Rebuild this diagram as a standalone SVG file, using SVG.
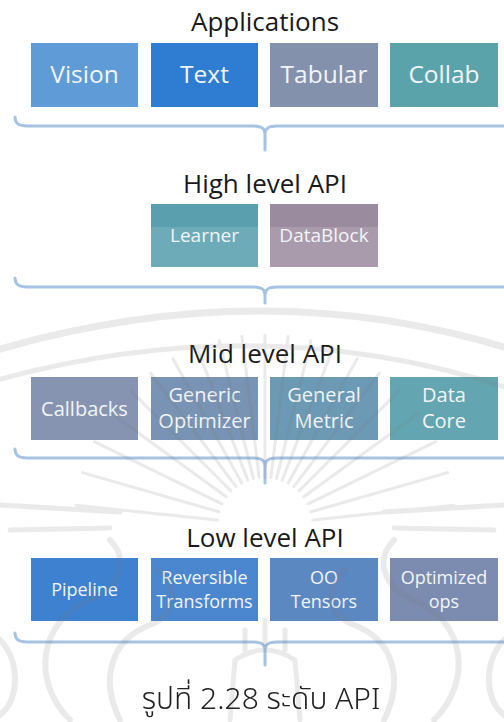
<svg xmlns="http://www.w3.org/2000/svg" xmlns:xlink="http://www.w3.org/1999/xlink" width="504" height="722" viewBox="0 0 504 722">
  <style>
    .title { font-family: "Open Sans", "Noto Sans", sans-serif; font-size: 26px; fill: #1a1a1a; text-anchor: middle; }
    .lbl { font-family: "Open Sans", "Noto Sans", sans-serif; fill: #f2f5f9; text-anchor: middle; }
    .app { font-size: 24.5px; }
    .high { font-size: 19px; }
    .mid { font-size: 20px; }
    .low { font-size: 18px; }
    .brace { fill: none; stroke: #a6c3e4; stroke-width: 3; stroke-linecap: round; }
    .caption { font-family: "Noto Sans Thai", "Noto Sans Thai UI", "Leelawadee UI", "Tahoma", "Noto Sans", sans-serif; font-size: 30px; font-weight: 300; fill: #222; text-anchor: middle; }
    .wm { fill: none; stroke: #7a7a7a; stroke-linecap: round; }
  </style>
  <defs>
    <line id="ray" x1="0" y1="-48" x2="0" y2="-190"/>
  </defs>

  <rect width="504" height="722" fill="#ffffff"/>

  <!-- Applications layer -->
  <text class="title" x="265" y="31">Applications</text>
  <g id="vision"><rect x="31" y="43" width="107" height="64" fill="#5f9bd6"/><text class="lbl app" x="84.5" y="83">Vision</text></g>
  <g id="text"><rect x="151" y="43" width="107" height="64" fill="#2f7dd2"/><text class="lbl app" x="204.5" y="83">Text</text></g>
  <g id="tabular"><rect x="270" y="43" width="108" height="64" fill="#8491ad"/><text class="lbl app" x="324" y="83">Tabular</text></g>
  <g id="collab"><rect x="390" y="43" width="108" height="64" fill="#5ba3ab"/><text class="lbl app" x="444" y="83">Collab</text></g>

  <!-- High level API layer -->
  <text class="title" x="265" y="193">High level API</text>
  <g id="learner">
    <rect x="151" y="204" width="107" height="63" fill="#6eabb8"/>
    <rect x="151" y="204" width="107" height="23" fill="#5a9fad"/>
    <text class="lbl high" x="204.5" y="242">Learner</text>
  </g>
  <g id="datablock">
    <rect x="270" y="204" width="108" height="63" fill="#a99bab"/>
    <rect x="270" y="204" width="108" height="23" fill="#9a8b9f"/>
    <text class="lbl high" x="324" y="242">DataBlock</text>
  </g>

  <!-- Mid level API layer -->
  <text class="title" x="265" y="363">Mid level API</text>
  <g id="callbacks"><rect x="31" y="377" width="107" height="63" fill="#8694b2"/><text class="lbl mid" x="84.5" y="416">Callbacks</text></g>
  <g id="generic-optimizer"><rect x="151" y="377" width="107" height="63" fill="#7893b4"/><text class="lbl mid" x="204.5" y="402">Generic</text><text class="lbl mid" x="204.5" y="428">Optimizer</text></g>
  <g id="general-metric"><rect x="270" y="377" width="108" height="63" fill="#6c9ab5"/><text class="lbl mid" x="324" y="402">General</text><text class="lbl mid" x="324" y="428">Metric</text></g>
  <g id="data-core"><rect x="390" y="377" width="108" height="63" fill="#63a6b1"/><text class="lbl mid" x="444" y="402">Data</text><text class="lbl mid" x="444" y="428">Core</text></g>

  <!-- Low level API layer -->
  <text class="title" x="265" y="547">Low level API</text>
  <g id="pipeline"><rect x="31" y="558" width="107" height="63" fill="#3d81d0"/><text class="lbl low" x="84.5" y="596">Pipeline</text></g>
  <g id="reversible-transforms"><rect x="151" y="558" width="107" height="63" fill="#4a87cf"/><text class="lbl low" x="204.5" y="584">Reversible</text><text class="lbl low" x="204.5" y="608">Transforms</text></g>
  <g id="oo-tensors"><rect x="270" y="558" width="108" height="63" fill="#5c88c2"/><text class="lbl low" x="324" y="584">OO</text><text class="lbl low" x="324" y="608">Tensors</text></g>
  <g id="optimized-ops"><rect x="390" y="558" width="108" height="63" fill="#7b8cb0"/><text class="lbl low" x="444" y="584">Optimized</text><text class="lbl low" x="444" y="608">ops</text></g>

  <!-- Curly braces joining each layer to the one below -->
  <g id="connectors">
    <path class="brace" d="M15,117 C15,123 18,126 27,126 L253,126 C261,126 265,128 265,134 C265,128 269,126 277,126 L506,126 M265,132 L265,150"/>
    <path class="brace" d="M15,278 C15,284 18,287 27,287 L253,287 C261,287 265,289 265,295 C265,289 269,287 277,287 L506,287 M265,293 L265,303"/>
    <path class="brace" d="M15,449 C15,455 18,458 27,458 L253,458 C261,458 265,460 265,466 C265,460 269,458 277,458 L506,458 M265,464 L265,483"/>
    <path class="brace" d="M15,633 C15,639 18,642 27,642 L253,642 C261,642 265,644 265,650 C265,644 269,642 277,642 L506,642 M265,648 L265,665"/>
  </g>

  <!-- Faint emblem in the background: arcs, sun rays and flame scrolls -->
  <g id="emblem" opacity="0.16">
    <path class="wm" stroke-width="7" d="M-10,352 Q265,270 520,352"/>
    <path class="wm" stroke-width="5" d="M-10,382 Q265,305 520,392"/>
    <g class="wm" stroke-width="3" transform="translate(265,525)">
      <use xlink:href="#ray" transform="rotate(-84)"/>
      <use xlink:href="#ray" transform="rotate(-74)"/>
      <use xlink:href="#ray" transform="rotate(-64)"/>
      <use xlink:href="#ray" transform="rotate(-54)"/>
      <use xlink:href="#ray" transform="rotate(-45)"/>
      <use xlink:href="#ray" transform="rotate(-37)"/>
      <use xlink:href="#ray" transform="rotate(-29)"/>
      <use xlink:href="#ray" transform="rotate(-21)"/>
      <use xlink:href="#ray" transform="rotate(-14)"/>
      <use xlink:href="#ray" transform="rotate(-7)"/>
      <use xlink:href="#ray" transform="rotate(0)"/>
      <use xlink:href="#ray" transform="rotate(7)"/>
      <use xlink:href="#ray" transform="rotate(14)"/>
      <use xlink:href="#ray" transform="rotate(21)"/>
      <use xlink:href="#ray" transform="rotate(29)"/>
      <use xlink:href="#ray" transform="rotate(37)"/>
      <use xlink:href="#ray" transform="rotate(45)"/>
      <use xlink:href="#ray" transform="rotate(54)"/>
      <use xlink:href="#ray" transform="rotate(64)"/>
      <use xlink:href="#ray" transform="rotate(74)"/>
      <use xlink:href="#ray" transform="rotate(84)"/>
    </g>
    <path class="wm" stroke-width="5" d="M0,505 L120,512 M384,512 L504,505 M10,530 L110,528 M394,528 L494,530"/>
    <path class="wm" stroke-width="6" d="M70,720 C30,680 40,620 90,600 C120,588 130,560 110,540 M120,720 C100,680 110,640 150,625 C180,612 175,585 160,570"/>
    <path class="wm" stroke-width="6" d="M434,720 C474,680 464,620 414,600 C384,588 374,560 394,540 M384,720 C404,680 394,640 354,625 C324,612 329,585 344,570"/>
    <path class="wm" stroke-width="5" d="M230,720 L235,660 Q265,640 295,660 L300,720 M245,650 L245,630 M265,645 L265,620 M285,650 L285,630"/>
    <path class="wm" stroke-width="6" d="M0,640 C20,660 20,700 0,715 M504,640 C484,660 484,700 504,715"/>
  </g>

  <!-- Caption -->
  <text class="caption" x="261" y="709">รูปที่ 2.28 ระดับ API</text>
</svg>
